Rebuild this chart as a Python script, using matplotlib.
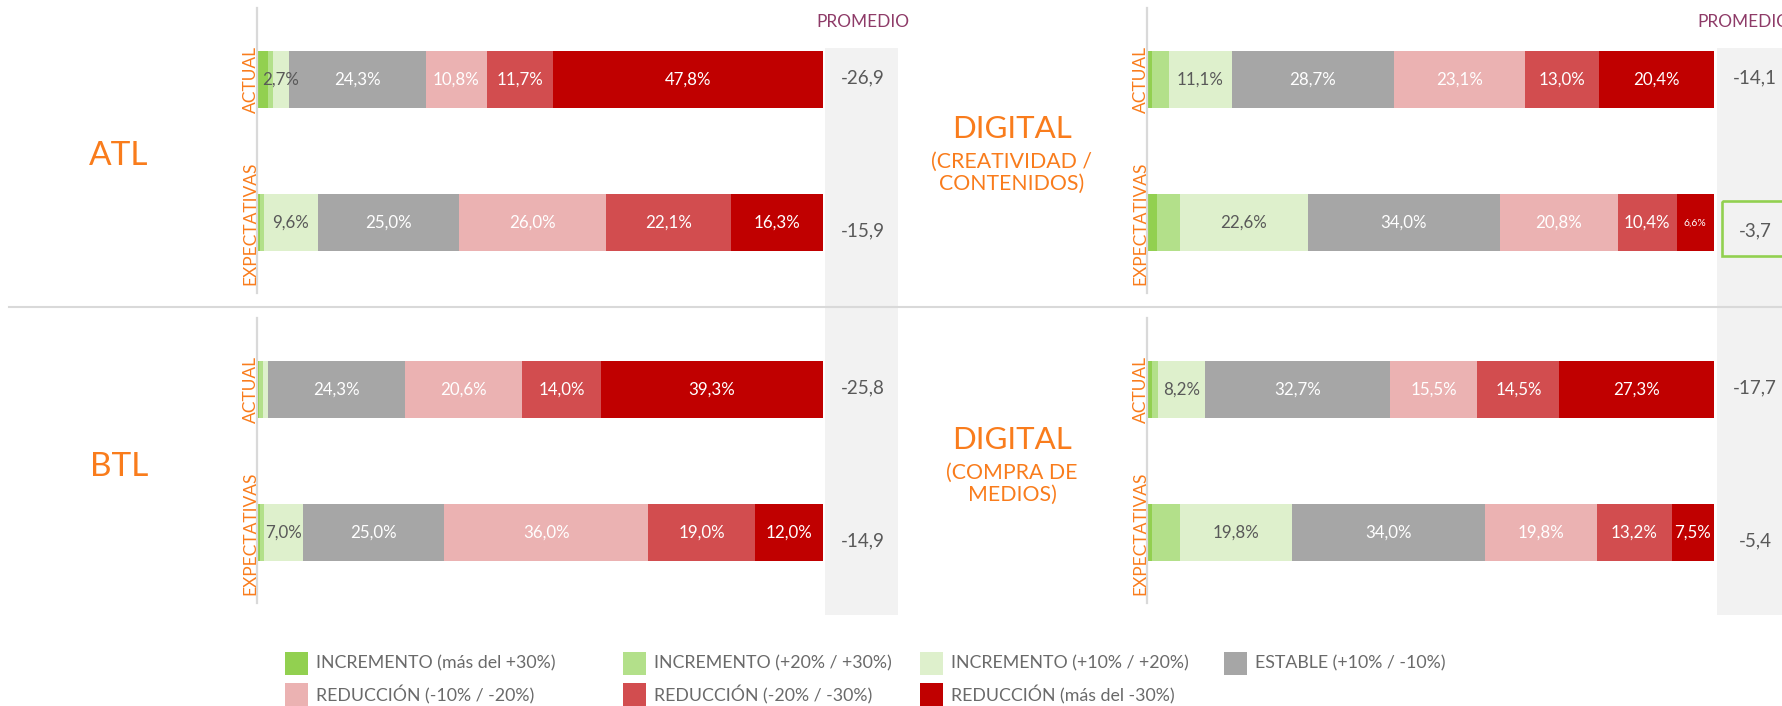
import matplotlib
matplotlib.use("Agg")
import matplotlib.pyplot as plt
import matplotlib.transforms as mtransforms
from matplotlib.patches import Rectangle
from matplotlib.lines import Line2D

W, H, DPI = 1783, 706, 100
plt.rcParams['font.family'] = ['Lato', 'DejaVu Sans']

# ---------------- data ----------------
categories = ["INCREMENTO (más del +30%)", "INCREMENTO (+20% / +30%)",
              "INCREMENTO (+10% / +20%)", "ESTABLE (+10% / -10%)",
              "REDUCCIÓN (-10% / -20%)", "REDUCCIÓN (-20% / -30%)",
              "REDUCCIÓN (más del -30%)"]
rows = ["ACTUAL", "EXPECTATIVAS"]

atl_actual = [1.7, 1.0, 2.7, 24.3, 10.8, 11.7, 47.8]
atl_expect = [0.3, 0.7, 9.6, 25.0, 26.0, 22.1, 16.3]
atl_prom = [-26.9, -15.9]

btl_actual = [0.1, 0.8, 0.9, 24.3, 20.6, 14.0, 39.3]
btl_expect = [0.3, 0.7, 7.0, 25.0, 36.0, 19.0, 12.0]
btl_prom = [-25.8, -14.9]

creat_actual = [0.7, 3.0, 11.1, 28.7, 23.1, 13.0, 20.4]
creat_expect = [1.6, 4.0, 22.6, 34.0, 20.8, 10.4, 6.6]
creat_prom = [-14.1, -3.7]

compra_actual = [0.7, 1.1, 8.2, 32.7, 15.5, 14.5, 27.3]
compra_expect = [0.7, 5.0, 19.8, 34.0, 19.8, 13.2, 7.5]
compra_prom = [-17.7, -5.4]

titles_atl = ["ATL"]
titles_btl = ["BTL"]
titles_creat = ["DIGITAL", "(CREATIVIDAD /", "CONTENIDOS)"]
titles_compra = ["DIGITAL", "(COMPRA DE", "MEDIOS)"]
prom_header = "PROMEDIO"

# ---------------- style ----------------
colors = ['#92D050', '#B3E08A', '#DEF0CC', '#A6A6A6', '#EBB2B2', '#D24D4F', '#C00000']
label_colors = [None, None, '#595959', 'white', 'white', 'white', 'white']
ORANGE = '#F97C1C'
PURPLE = '#8E3B68'
GRAYTXT = '#595959'
LINE = '#D9D9D9'
BG = '#F2F2F2'

fig = plt.figure(figsize=(W / DPI, H / DPI), dpi=DPI)


def frect(x0, y0, x1, y1):
    return [x0 / W, 1 - y1 / H, (x1 - x0) / W, (y1 - y0) / H]


def fx(x):
    return x / W


def fy(y):
    return 1 - y / H


# promedio gray columns
for bx0 in (825, 1717):
    fig.add_artist(Rectangle((fx(bx0), fy(615)), 73 / W, (615 - 48) / H,
                             transform=fig.transFigure, facecolor=BG,
                             edgecolor='none', zorder=0))

fig.text(fx(816), fy(26.7), prom_header, ha='left', va='baseline',
         color=PURPLE, fontsize=12.4)
fig.text(fx(1697), fy(26.7), prom_header, ha='left', va='baseline',
         color=PURPLE, fontsize=12.4)

panels = [
    dict(vals=[atl_actual, atl_expect], prom=atl_prom, box=(258, 8, 823, 293), pcol=825),
    dict(vals=[btl_actual, btl_expect], prom=btl_prom, box=(258, 318, 823, 603), pcol=825),
    dict(vals=[creat_actual, creat_expect], prom=creat_prom, box=(1148, 8, 1714, 293), pcol=1717),
    dict(vals=[compra_actual, compra_expect], prom=compra_prom, box=(1148, 318, 1714, 603), pcol=1717),
]

all_prom = [p for pan in panels for p in pan['prom']]
best = max(all_prom)


def fmt(v):
    return f"{v:.1f}".replace('.', ',')


prom_offsets = [2, -8]  # dots (display up positive)

for pan in panels:
    ax = fig.add_axes(frect(*pan['box']))
    ax.set_xlim(0, 100)
    ax.set_ylim(1.49, -0.5)
    for s in ('top', 'right', 'bottom'):
        ax.spines[s].set_visible(False)
    ax.spines['left'].set_color(LINE)
    ax.spines['left'].set_linewidth(1.6)
    ax.spines['left'].set_position(('outward', 1))
    ax.set_xticks([])
    ax.set_yticks([])
    ax.patch.set_alpha(0)

    for i, vals in enumerate(pan['vals']):
        left = 0
        for k, v in enumerate(vals):
            ax.barh(i, v, left=left, height=0.4, color=colors[k], linewidth=0)
            if label_colors[k] is not None and v >= 2:
                small = (v < 7 and k >= 4)
                ax.text(left + v / 2, i, fmt(v) + '%', ha='center', va='center',
                        color=label_colors[k], fontsize=7.5 if small else 12.2)
            left += v

    # row labels (rotated)
    trow = mtransforms.offset_copy(
        mtransforms.blended_transform_factory(ax.transAxes, ax.transData),
        fig=fig, x=-7.5, y=0, units='dots')
    for i, r in enumerate(rows):
        ax.text(0, i, r, transform=trow, rotation=90, ha='center', va='center',
                color=ORANGE, fontsize=12.5)

    # promedio values
    base = mtransforms.blended_transform_factory(fig.transFigure, ax.transData)
    cx = fx(pan['pcol'] + 38)
    for i, p in enumerate(pan['prom']):
        t = mtransforms.offset_copy(base, fig=fig, x=0, y=prom_offsets[i], units='dots')
        fig.text(cx, i, fmt(p), transform=t, ha='center', va='center',
                 color=GRAYTXT, fontsize=13.5)
        if p == best:
            fig.add_artist(Rectangle((fx(pan['pcol'] + 5), i - 0.154), 80 / W, 0.384,
                                     transform=base, facecolor='none',
                                     edgecolor=colors[0], linewidth=1.9, zorder=5))

# separator
fig.add_artist(Line2D([fx(9), 1.0], [fy(307), fy(307)], color=LINE, linewidth=1.5))


# section titles
def title_block(lines, x, base_y, first_size, other_size, gaps):
    y = base_y
    for j, line in enumerate(lines):
        if j > 0:
            y += gaps[j - 1]
        fig.text(fx(x), fy(y), line, ha='center', va='baseline', color=ORANGE,
                 fontsize=first_size if j == 0 else other_size)


title_block(titles_atl, 119, 165, 24, 15, [])
title_block(titles_btl, 119, 165 + 310.5, 24, 15, [])
title_block(titles_creat, 1012, 138.3, 22.5, 15.3, [30, 21.7])
title_block(titles_compra, 1012, 138.3 + 310.5, 22.5, 15.3, [30, 21.7])

# legend (manual, row-major)
leg_sq_x = [285, 623, 920, 1224, 285, 623, 920]
leg_row_y = [663.5, 663.5, 663.5, 663.5, 694.5, 694.5, 694.5]
for k, cat in enumerate(categories):
    sx, sy = leg_sq_x[k], leg_row_y[k]
    fig.add_artist(Rectangle((fx(sx), fy(sy + 11.5)), 23 / W, 23 / H,
                             transform=fig.transFigure, facecolor=colors[k],
                             edgecolor='none'))
    fig.text(fx(sx + 31), fy(sy), cat, ha='left', va='center', color='#6A6A6A',
             fontsize=12.8)

fig.savefig('out.png', dpi=DPI)
